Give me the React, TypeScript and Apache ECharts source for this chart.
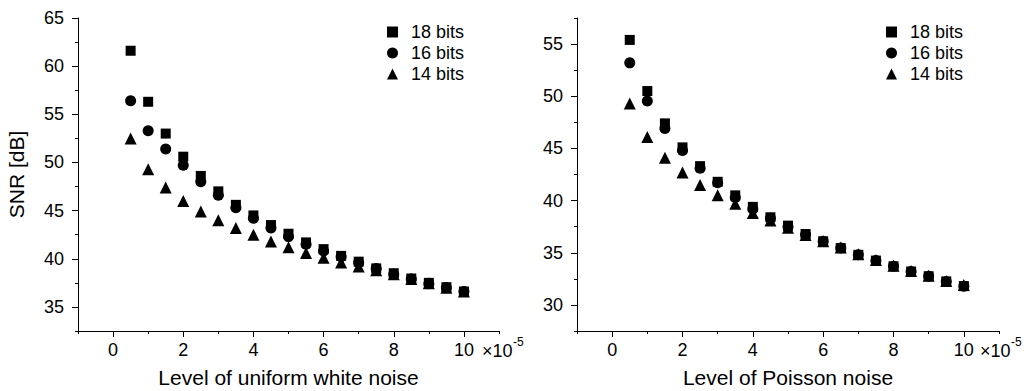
import React, { useEffect, useRef } from "react";
import * as echarts from "echarts";

const noiseLevels = [0.5, 1, 1.5, 2, 2.5, 3, 3.5, 4, 4.5, 5, 5.5, 6, 6.5, 7, 7.5, 8, 8.5, 9, 9.5, 10];

const uniform18 = [61.6, 56.3, 53.0, 50.6, 48.6, 47.0, 45.6, 44.5, 43.5, 42.6, 41.7, 41.0, 40.3, 39.7, 39.0, 38.5, 37.95, 37.5, 37.05, 36.6];
const uniform16 = [56.4, 53.3, 51.4, 49.7, 48.0, 46.6, 45.3, 44.2, 43.2, 42.3, 41.5, 40.8, 40.2, 39.6, 39.0, 38.4, 37.9, 37.4, 37.0, 36.6];
const uniform14 = [52.5, 49.3, 47.4, 46.0, 44.9, 44.0, 43.2, 42.5, 41.8, 41.2, 40.6, 40.1, 39.6, 39.2, 38.8, 38.4, 37.9, 37.45, 37.0, 36.6];

const poisson18 = [55.4, 50.5, 47.4, 45.1, 43.3, 41.8, 40.5, 39.4, 38.4, 37.6, 36.8, 36.1, 35.45, 34.8, 34.25, 33.7, 33.2, 32.75, 32.25, 31.8];
const poisson16 = [53.2, 49.55, 46.9, 44.8, 43.1, 41.7, 40.3, 39.2, 38.3, 37.5, 36.75, 36.1, 35.45, 34.8, 34.25, 33.7, 33.2, 32.75, 32.25, 31.8];
const poisson14 = [49.3, 46.1, 44.1, 42.7, 41.5, 40.5, 39.7, 38.8, 38.1, 37.4, 36.7, 36.1, 35.5, 34.85, 34.3, 33.75, 33.25, 32.8, 32.3, 31.9];

const seriesNames = ["18 bits", "16 bits", "14 bits"];
const symbols = ["rect", "circle", "triangle"];
const symbolSizes = [10, 11, 12];

const xMajorTicks = [0, 2, 4, 6, 8, 10];
const xMinorTicks = [-1, 1, 3, 5, 7, 9, 11];
const leftYMajor = [35, 40, 45, 50, 55, 60, 65];
const leftYMinor = [32.5, 37.5, 42.5, 47.5, 52.5, 57.5, 62.5];
const rightYMajor = [30, 35, 40, 45, 50, 55];
const rightYMinor = [27.5, 32.5, 37.5, 42.5, 47.5, 52.5, 57.5];

const FONT = "Liberation Sans, Arial, sans-serif";
const BLACK = "#000";

function pairs(xs: number[], ys: number[]) {
  return xs.map((x, i) => [x, ys[i]]);
}

export default function App() {
  const ref = useRef<HTMLDivElement>(null);
  useEffect(() => {
    if (!ref.current) return;
    const chart = echarts.init(ref.current, undefined, { renderer: "svg" });

    const majorX = (grid: number, name: string) => ({
      type: "value",
      gridIndex: grid,
      min: -1,
      max: 11,
      position: "bottom",
      name,
      nameLocation: "middle",
      nameGap: 36,
      nameTextStyle: { fontFamily: FONT, fontSize: 21, color: BLACK },
      axisLine: { show: true, onZero: false, lineStyle: { color: BLACK, width: 1 } },
      axisTick: { show: true, customValues: xMajorTicks, length: 6, inside: false, lineStyle: { color: BLACK } },
      axisLabel: { show: true, customValues: xMajorTicks, fontFamily: FONT, fontSize: 18, color: BLACK, margin: 10 },
      splitLine: { show: false },
    });
    const minorX = (grid: number) => ({
      type: "value",
      gridIndex: grid,
      min: -1,
      max: 11,
      position: "bottom",
      axisLine: { show: false, onZero: false },
      axisTick: { show: true, customValues: xMinorTicks, length: 3, lineStyle: { color: BLACK } },
      axisLabel: { show: false },
      splitLine: { show: false },
    });
    const majorY = (grid: number, min: number, max: number, ticks: number[], name: string) => ({
      type: "value",
      gridIndex: grid,
      min,
      max,
      position: "left",
      name,
      nameLocation: "middle",
      nameGap: 51,
      nameTextStyle: { fontFamily: FONT, fontSize: 21, color: BLACK },
      axisLine: { show: true, onZero: false, lineStyle: { color: BLACK, width: 1 } },
      axisTick: { show: true, customValues: ticks, length: 6, lineStyle: { color: BLACK } },
      axisLabel: { show: true, customValues: ticks, fontFamily: FONT, fontSize: 18, color: BLACK, margin: 14 },
      splitLine: { show: false },
    });
    const minorY = (grid: number, min: number, max: number, ticks: number[]) => ({
      type: "value",
      gridIndex: grid,
      min,
      max,
      position: "left",
      axisLine: { show: false, onZero: false },
      axisTick: { show: true, customValues: ticks, length: 3, lineStyle: { color: BLACK } },
      axisLabel: { show: false },
      splitLine: { show: false },
    });

    const leftSets = [uniform18, uniform16, uniform14];
    const rightSets = [poisson18, poisson16, poisson14];
    const series: any[] = [];
    leftSets.forEach((ys, i) => {
      series.push({
        type: "scatter",
        name: seriesNames[i],
        xAxisIndex: 0,
        yAxisIndex: 0,
        symbol: symbols[i],
        symbolSize: symbolSizes[i],
        itemStyle: { color: BLACK, opacity: 1 },
        data: pairs(noiseLevels, ys),
      });
    });
    rightSets.forEach((ys, i) => {
      series.push({
        type: "scatter",
        name: seriesNames[i],
        xAxisIndex: 2,
        yAxisIndex: 2,
        symbol: symbols[i],
        symbolSize: symbolSizes[i],
        itemStyle: { color: BLACK, opacity: 1 },
        data: pairs(noiseLevels, ys),
      });
    });

    const legendCommon = {
      orient: "vertical",
      top: 18,
      itemWidth: 11,
      itemHeight: 11,
      itemGap: 3,
      data: seriesNames,
      selectedMode: false,
      textStyle: { fontFamily: FONT, fontSize: 18, color: BLACK, padding: [0, 0, 0, 8] },
    };

    const expo = (x: number) => [
      {
        type: "text",
        left: x,
        top: 342,
        style: { text: "×10", fontFamily: FONT, fontSize: 18, fill: BLACK },
      },
      {
        type: "text",
        left: x + 31,
        top: 336,
        style: { text: "-5", fontFamily: FONT, fontSize: 12, fill: BLACK },
      },
    ];

    chart.setOption({
      animation: false,
      backgroundColor: "#fff",
      grid: [
        { left: 78, top: 18, width: 421, height: 313, containLabel: false, outerBoundsMode: "none" },
        { left: 577, top: 18, width: 422, height: 313, containLabel: false, outerBoundsMode: "none" },
      ],
      xAxis: [majorX(0, "Level of uniform white noise"), minorX(0), majorX(1, "Level of Poisson noise"), minorX(1)],
      yAxis: [
        majorY(0, 32.5, 65, leftYMajor, "SNR [dB]"),
        minorY(0, 32.5, 65, leftYMinor),
        majorY(1, 27.5, 57.5, rightYMajor, ""),
        minorY(1, 27.5, 57.5, rightYMinor),
      ],
      legend: [
        { ...legendCommon, left: 382 },
        { ...legendCommon, left: 881 },
      ],
      graphic: [...expo(482), ...expo(980)],
      series,
    });
    return () => chart.dispose();
  }, []);
  return <div ref={ref} style={{ position: "fixed", left: 0, top: 0, width: 1032, height: 391 }} />;
}
